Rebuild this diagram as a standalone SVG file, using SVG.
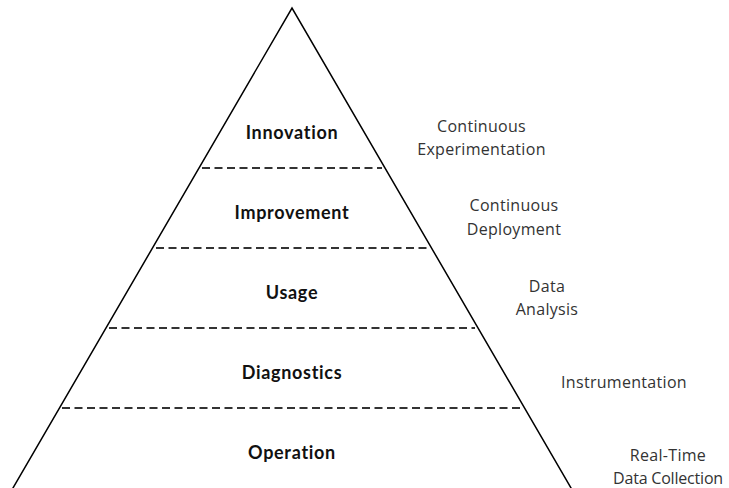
<svg xmlns="http://www.w3.org/2000/svg" width="729" height="488" viewBox="0 0 729 488">
  <style>
    .tier { font-family: Lato, "Liberation Sans", sans-serif; font-weight: 700; font-size: 18px; letter-spacing: 0.7px; fill: #111; text-anchor: middle; }
    .note { font-family: "Open Sans", "Liberation Sans", sans-serif; font-weight: 400; font-size: 16px; letter-spacing: 0.3px; fill: #333; text-anchor: middle; }
    .tight { letter-spacing: -0.2px; }
    .edge { fill: none; stroke: #000; stroke-width: 1.5; }
    .sep { fill: none; stroke: #333; stroke-width: 2; stroke-dasharray: 8 4.5; }
  </style>
  <rect width="729" height="488" fill="#fff"/>
  <g id="pyramid">
    <path class="edge" d="M 6 500 L 292 8 L 578 500"/>
  </g>
  <g id="connectors">
    <line class="sep" x1="202" y1="168" x2="382" y2="168"/>
    <line class="sep" x1="156" y1="248" x2="428" y2="248"/>
    <line class="sep" x1="109" y1="328" x2="475" y2="328"/>
    <line class="sep" x1="62" y1="408" x2="522" y2="408"/>
  </g>
  <g id="innovation"><text class="tier" x="292" y="139">Innovation</text></g>
  <g id="improvement"><text class="tier" x="292" y="219">Improvement</text></g>
  <g id="usage"><text class="tier" x="292" y="299">Usage</text></g>
  <g id="diagnostics"><text class="tier" x="292" y="379">Diagnostics</text></g>
  <g id="operation"><text class="tier" x="292" y="459">Operation</text></g>
  <g id="continuous-experimentation">
    <text class="note" x="481.5" y="131.5">Continuous</text>
    <text class="note" x="481.5" y="155">Experimentation</text>
  </g>
  <g id="continuous-deployment">
    <text class="note" x="514" y="211">Continuous</text>
    <text class="note" x="514" y="234.5">Deployment</text>
  </g>
  <g id="data-analysis">
    <text class="note" x="547" y="291.5">Data</text>
    <text class="note" x="547" y="315">Analysis</text>
  </g>
  <g id="instrumentation">
    <text class="note" x="624" y="387.5">Instrumentation</text>
  </g>
  <g id="real-time-data-collection">
    <text class="note" x="668" y="461">Real-Time</text>
    <text class="note tight" x="668" y="483.5">Data Collection</text>
  </g>
</svg>
